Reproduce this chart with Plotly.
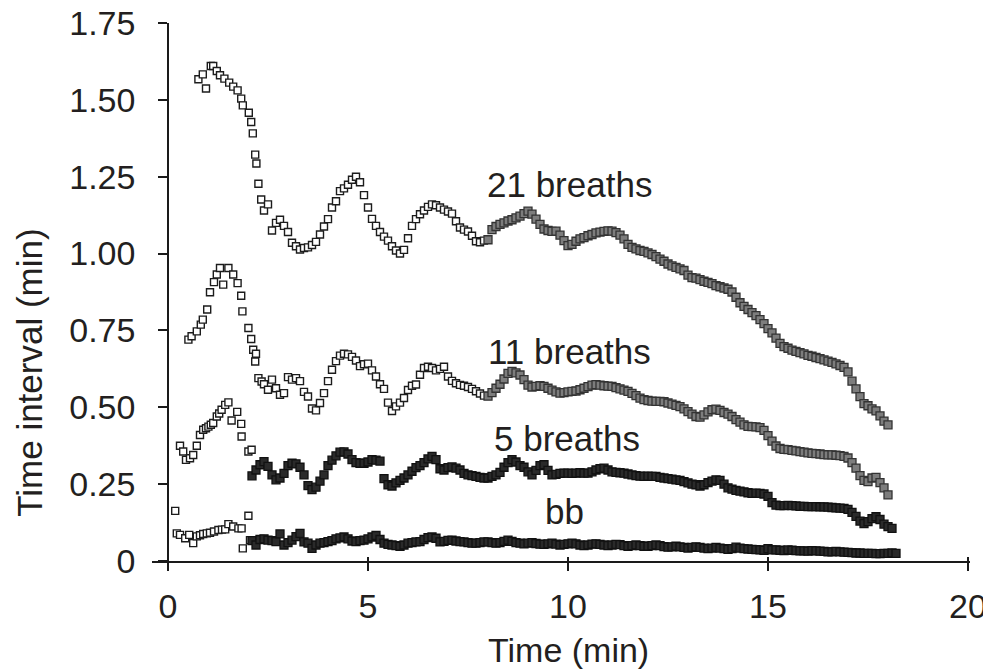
import plotly.graph_objects as go

# ---------------- data ----------------
# regular sampling times (min) used by the dense parts of the series
t_grid = [
    2.0, 2.1, 2.2, 2.3, 2.4, 2.5, 2.6, 2.7, 2.8, 2.9,
    3.0, 3.1, 3.2, 3.3, 3.4, 3.5, 3.6, 3.7, 3.8, 3.9,
    4.0, 4.1, 4.2, 4.3, 4.4, 4.5, 4.6, 4.7, 4.8, 4.9,
    5.0, 5.1, 5.2, 5.3, 5.4, 5.5, 5.6, 5.7, 5.8, 5.9,
    6.0, 6.1, 6.2, 6.3, 6.4, 6.5, 6.6, 6.7, 6.8, 6.9,
    7.0, 7.1, 7.2, 7.3, 7.4, 7.5, 7.6, 7.7, 7.8, 7.9,
    8.0, 8.1, 8.2, 8.3, 8.4, 8.5, 8.6, 8.7, 8.8, 8.9,
    9.0, 9.1, 9.2, 9.3, 9.4, 9.5, 9.6, 9.7, 9.8, 9.9,
    10.0, 10.1, 10.2, 10.3, 10.4, 10.5, 10.6, 10.7, 10.8, 10.9,
    11.0, 11.1, 11.2, 11.3, 11.4, 11.5, 11.6, 11.7, 11.8, 11.9,
    12.0, 12.1, 12.2, 12.3, 12.4, 12.5, 12.6, 12.7, 12.8, 12.9,
    13.0, 13.1, 13.2, 13.3, 13.4, 13.5, 13.6, 13.7, 13.8, 13.9,
    14.0, 14.1, 14.2, 14.3, 14.4, 14.5, 14.6, 14.7, 14.8, 14.9,
    15.0, 15.1, 15.2, 15.3, 15.4, 15.5, 15.6, 15.7, 15.8, 15.9,
    16.0, 16.1, 16.2, 16.3, 16.4, 16.5, 16.6, 16.7, 16.8, 16.9,
    17.0, 17.1, 17.2, 17.3, 17.4, 17.5, 17.6, 17.7, 17.8, 17.9,
    18.0, 18.1, 18.2,
]

# ---- 21 breaths ----
b21_early_t = [0.76, 0.87, 0.95, 1.07, 1.13, 1.22, 1.30, 1.41, 1.53, 1.63,
               1.74, 1.83, 1.87, 2.02, 2.08, 2.12, 2.18, 2.21, 2.26, 2.33]
b21_early_v = [1.567, 1.583, 1.537, 1.610, 1.610, 1.594, 1.580, 1.569, 1.556, 1.543,
               1.531, 1.504, 1.482, 1.458, 1.428, 1.391, 1.322, 1.293, 1.227, 1.176]
b21_mid_start = 2.4
b21_mid_v = [1.140, 1.160, 1.075, 1.100, 1.110, 1.090, 1.070, 1.035, 1.024, 1.013,
             1.018, 1.020, 1.028, 1.038, 1.062, 1.088, 1.112, 1.150, 1.170, 1.203,
             1.212, 1.224, 1.240, 1.250, 1.232, 1.190, 1.150, 1.113, 1.090, 1.070,
             1.055, 1.042, 1.024, 1.010, 1.000, 1.012, 1.050, 1.090, 1.112, 1.128,
             1.140, 1.152, 1.160, 1.157, 1.150, 1.143, 1.137, 1.130, 1.105, 1.085,
             1.078, 1.072, 1.058, 1.040, 1.037, 1.042]
b21_late_start = 8.0
b21_late_v = [1.045, 1.078, 1.088, 1.095, 1.100, 1.106, 1.110, 1.116, 1.122, 1.130,
              1.138, 1.128, 1.112, 1.095, 1.080, 1.075, 1.072, 1.073, 1.060, 1.042,
              1.026, 1.030, 1.040, 1.048, 1.052, 1.058, 1.062, 1.067, 1.070, 1.072,
              1.074, 1.073, 1.068, 1.060, 1.048, 1.030, 1.020, 1.015, 1.010, 1.007,
              1.002, 0.997, 0.990, 0.982, 0.975, 0.966, 0.960, 0.955, 0.950, 0.945,
              0.930, 0.922, 0.920, 0.915, 0.910, 0.906, 0.902, 0.896, 0.892, 0.888,
              0.884, 0.875, 0.858, 0.840, 0.828, 0.818, 0.808, 0.798, 0.785, 0.772,
              0.756, 0.742, 0.725, 0.708, 0.697, 0.692, 0.686, 0.682, 0.678, 0.674,
              0.669, 0.666, 0.662, 0.658, 0.654, 0.650, 0.646, 0.641, 0.636, 0.630,
              0.615, 0.585, 0.560, 0.535, 0.512, 0.505, 0.495, 0.488, 0.472, 0.455,
              0.443]

# ---- 11 breaths ----
b11_early_t = [0.51, 0.59, 0.72, 0.82, 0.87, 0.98, 1.05, 1.15, 1.22, 1.30,
               1.38, 1.51, 1.63, 1.74, 1.83, 1.86, 2.01, 2.08, 2.13, 2.18,
               2.20, 2.26, 2.34]
b11_early_v = [0.720, 0.731, 0.747, 0.769, 0.785, 0.818, 0.874, 0.907, 0.932, 0.953,
               0.899, 0.953, 0.932, 0.904, 0.863, 0.812, 0.758, 0.722, 0.687, 0.649,
               0.674, 0.595, 0.584]
b11_mid_start = 2.4
b11_mid_v = [0.575, 0.557, 0.590, 0.562, 0.541, 0.546, 0.598, 0.590, 0.595, 0.585,
             0.550, 0.535, 0.496, 0.490, 0.514, 0.546, 0.585, 0.622, 0.650, 0.668,
             0.674, 0.672, 0.664, 0.652, 0.634, 0.640, 0.642, 0.620, 0.600, 0.575,
             0.560, 0.515, 0.488, 0.503, 0.515, 0.530, 0.556, 0.570, 0.574, 0.606,
             0.628, 0.632, 0.628, 0.620, 0.625, 0.632, 0.600, 0.586, 0.578, 0.573,
             0.570, 0.566, 0.560, 0.552, 0.545, 0.538]
b11_late_start = 8.0
b11_late_v = [0.536, 0.548, 0.562, 0.575, 0.592, 0.610, 0.617, 0.612, 0.605, 0.590,
              0.572, 0.566, 0.568, 0.570, 0.568, 0.562, 0.556, 0.550, 0.546, 0.548,
              0.550, 0.552, 0.553, 0.557, 0.562, 0.567, 0.572, 0.574, 0.572, 0.570,
              0.569, 0.568, 0.564, 0.560, 0.556, 0.552, 0.545, 0.538, 0.530, 0.525,
              0.522, 0.520, 0.519, 0.519, 0.518, 0.514, 0.510, 0.506, 0.502, 0.495,
              0.486, 0.478, 0.470, 0.468, 0.475, 0.485, 0.492, 0.494, 0.490, 0.483,
              0.478, 0.470, 0.460, 0.452, 0.443, 0.438, 0.437, 0.436, 0.434, 0.425,
              0.408, 0.390, 0.374, 0.366, 0.363, 0.362, 0.360, 0.358, 0.356, 0.354,
              0.352, 0.350, 0.349, 0.348, 0.346, 0.345, 0.345, 0.344, 0.343, 0.340,
              0.335, 0.320, 0.302, 0.278, 0.262, 0.258, 0.270, 0.272, 0.255, 0.238,
              0.215]

# ---- 5 breaths ----
b5_early_t = [0.30, 0.38, 0.45, 0.55, 0.63, 0.72, 0.80, 0.88, 0.95, 1.01,
              1.07, 1.13, 1.22, 1.28, 1.34, 1.43, 1.51, 1.59, 1.73, 1.83,
              1.84, 2.01, 2.09]
b5_early_v = [0.375, 0.356, 0.329, 0.334, 0.345, 0.375, 0.410, 0.427, 0.432, 0.437,
              0.443, 0.449, 0.470, 0.480, 0.492, 0.508, 0.516, 0.457, 0.485, 0.446,
              0.405, 0.356, 0.362]
b5_start = 2.1
b5_v = [0.277, 0.296, 0.313, 0.323, 0.308, 0.280, 0.264, 0.270, 0.285, 0.310,
        0.318, 0.316, 0.305, 0.280, 0.245, 0.232, 0.240, 0.260, 0.280, 0.310,
        0.328, 0.342, 0.354, 0.355, 0.348, 0.330, 0.320, 0.318, 0.318, 0.322,
        0.330, 0.328, 0.325, 0.268, 0.248, 0.244, 0.254, 0.262, 0.270, 0.280,
        0.292, 0.304, 0.310, 0.320, 0.332, 0.340, 0.330, 0.300, 0.296, 0.304,
        0.306, 0.302, 0.296, 0.285, 0.280, 0.278, 0.275, 0.272, 0.270, 0.270,
        0.275, 0.280, 0.288, 0.305, 0.320, 0.330, 0.322, 0.310, 0.305, 0.290,
        0.280, 0.295, 0.310, 0.313, 0.295, 0.280, 0.282, 0.285, 0.286, 0.286,
        0.285, 0.286, 0.287, 0.286, 0.286, 0.290, 0.296, 0.300, 0.302, 0.296,
        0.290, 0.288, 0.287, 0.286, 0.283, 0.280, 0.278, 0.276, 0.275, 0.276,
        0.275, 0.275, 0.272, 0.270, 0.268, 0.266, 0.264, 0.262, 0.258, 0.254,
        0.250, 0.248, 0.244, 0.248, 0.255, 0.260, 0.264, 0.262, 0.250, 0.238,
        0.234, 0.230, 0.227, 0.225, 0.222, 0.220, 0.221, 0.220, 0.218, 0.210,
        0.190, 0.182, 0.180, 0.180, 0.181, 0.180, 0.179, 0.178, 0.178, 0.177,
        0.177, 0.177, 0.176, 0.176, 0.175, 0.174, 0.173, 0.172, 0.171, 0.168,
        0.158, 0.145, 0.130, 0.122, 0.128, 0.138, 0.144, 0.135, 0.120, 0.112,
        0.106]

# ---- breath-by-breath (bb) ----
bb_early_t = [0.18, 0.22, 0.30, 0.43, 0.53, 0.63, 0.72, 0.80, 0.88, 0.97,
              1.05, 1.15, 1.26, 1.35, 1.43, 1.51, 1.63, 1.76, 1.84, 1.87,
              2.01, 2.05]
bb_early_v = [0.163, 0.090, 0.085, 0.074, 0.085, 0.058, 0.080, 0.084, 0.088, 0.090,
              0.092, 0.096, 0.101, 0.102, 0.103, 0.120, 0.112, 0.106, 0.106, 0.041,
              0.147, 0.068]
bb_start = 2.1
bb_v = [0.066, 0.052, 0.070, 0.072, 0.068, 0.066, 0.063, 0.088, 0.052, 0.060,
        0.068, 0.079, 0.090, 0.062, 0.058, 0.041, 0.052, 0.058, 0.060, 0.063,
        0.066, 0.072, 0.075, 0.078, 0.072, 0.065, 0.063, 0.066, 0.068, 0.072,
        0.078, 0.083, 0.070, 0.058, 0.054, 0.052, 0.050, 0.048, 0.052, 0.058,
        0.060, 0.062, 0.063, 0.070, 0.076, 0.078, 0.074, 0.062, 0.064, 0.067,
        0.068, 0.065, 0.063, 0.062, 0.060, 0.058, 0.058, 0.060, 0.062, 0.062,
        0.060, 0.058, 0.060, 0.064, 0.068, 0.064, 0.060, 0.058, 0.056, 0.058,
        0.060, 0.057, 0.055, 0.054, 0.056, 0.058, 0.055, 0.052, 0.054, 0.056,
        0.058, 0.056, 0.052, 0.050, 0.052, 0.055, 0.056, 0.054, 0.052, 0.050,
        0.052, 0.054, 0.053, 0.050, 0.048, 0.050, 0.052, 0.050, 0.048, 0.048,
        0.050, 0.052, 0.050, 0.047, 0.045, 0.046, 0.048, 0.046, 0.044, 0.042,
        0.044, 0.046, 0.044, 0.042, 0.040, 0.042, 0.044, 0.042, 0.040, 0.038,
        0.040, 0.045, 0.042, 0.040, 0.039, 0.038, 0.037, 0.036, 0.035, 0.040,
        0.036, 0.036, 0.035, 0.034, 0.036, 0.035, 0.034, 0.033, 0.033, 0.032,
        0.034, 0.033, 0.032, 0.031, 0.030, 0.030, 0.031, 0.030, 0.029, 0.028,
        0.027, 0.026, 0.026, 0.025, 0.025, 0.025, 0.024, 0.024, 0.025, 0.025,
        0.026, 0.025]

series_labels = ["21 breaths", "11 breaths", "5 breaths", "bb"]
label_x = [10.03, 10.03, 9.98, 9.9]
label_y = [1.225, 0.681, 0.400, 0.160]

x_ticks = [0, 5, 10, 15, 20]
y_ticks = [0, 0.25, 0.5, 0.75, 1.0, 1.25, 1.5, 1.75]
y_ticktext = ["0", "0.25", "0.50", "0.75", "1.00", "1.25", "1.50", "1.75"]


def grid_slice(start, values):
    i = t_grid.index(start)
    return t_grid[i:i + len(values)]


FONT = "Liberation Sans, Arial, Helvetica, sans-serif"
TXT = "#231f20"

hollow_marker = dict(symbol="square", size=7, color="white",
                     line=dict(color="#1c1c1c", width=1.4))
dense_black_marker = dict(symbol="square", size=8, color="#2a2a2a",
                          line=dict(color="#111111", width=1.3))
gray_marker = dict(symbol="square", size=8, color="#7d7d7d",
                   line=dict(color="#333333", width=1.3))

fig = go.Figure()


def add(xs, ys, marker):
    fig.add_trace(go.Scatter(x=xs, y=ys, mode="markers", marker=marker,
                             showlegend=False, hoverinfo="skip", cliponaxis=False))


# bb
add(bb_early_t, bb_early_v, hollow_marker)
add(grid_slice(bb_start, bb_v), bb_v, dense_black_marker)
# 5 breaths
add(b5_early_t, b5_early_v, hollow_marker)
add(grid_slice(b5_start, b5_v), b5_v, dense_black_marker)
# 11 breaths
add(b11_early_t, b11_early_v, hollow_marker)
add(grid_slice(b11_mid_start, b11_mid_v), b11_mid_v, hollow_marker)
add(grid_slice(b11_late_start, b11_late_v), b11_late_v, gray_marker)
# 21 breaths
add(b21_early_t, b21_early_v, hollow_marker)
add(grid_slice(b21_mid_start, b21_mid_v), b21_mid_v, hollow_marker)
add(grid_slice(b21_late_start, b21_late_v), b21_late_v, gray_marker)

# overlay axis to get x ticks that cross the axis line slightly
fig.add_trace(go.Scatter(x=[None], y=[None], xaxis="x2", showlegend=False))

for txt, lx, ly in zip(series_labels, label_x, label_y):
    fig.add_annotation(x=lx, y=ly, text=txt, showarrow=False,
                       xanchor="center", yanchor="middle",
                       font=dict(family=FONT, size=35, color=TXT))

fig.add_annotation(xref="paper", yref="paper", x=0.5086, y=-0.165,
                   text="Time (min)", showarrow=False,
                   xanchor="center", yanchor="middle",
                   font=dict(family=FONT, size=34, color=TXT))
fig.add_annotation(xref="paper", yref="paper", x=-0.149, y=0.35,
                   text="Time interval (min)", textangle=-90, showarrow=False,
                   xanchor="center", yanchor="middle",
                   font=dict(family=FONT, size=35, color=TXT))

x_range = [-0.4, 20.05]
fig.update_layout(
    width=991, height=670,
    margin=dict(l=144, r=29, t=15, b=117, autoexpand=False),
    paper_bgcolor="white", plot_bgcolor="white",
    font=dict(family=FONT, color=TXT),
    xaxis=dict(range=x_range, domain=[0, 1], tickvals=x_ticks, automargin=False,
               showline=True, linecolor="#1a1a1a", linewidth=1.5,
               ticks="outside", ticklen=8, tickwidth=1.5, tickcolor="#1a1a1a",
               ticklabelstandoff=6, ticklabeloverflow="allow",
               tickfont=dict(family=FONT, size=34, color=TXT),
               showgrid=False, zeroline=False),
    xaxis2=dict(range=x_range, overlaying="x", anchor="y", side="bottom",
                tickvals=x_ticks, showticklabels=False, ticks="inside",
                ticklen=4, tickwidth=1.5, tickcolor="#1a1a1a", automargin=False,
                showline=False, showgrid=False, zeroline=False),
    yaxis=dict(range=[0, 1.75], anchor="free", position=0.4 / 20.45,
               automargin=False,
               tickvals=y_ticks, ticktext=y_ticktext,
               showline=True, linecolor="#1a1a1a", linewidth=1.5,
               ticks="outside", ticklen=9, tickwidth=1.5, tickcolor="#1a1a1a",
               ticklabelstandoff=16, ticklabeloverflow="allow",
               tickfont=dict(family=FONT, size=34, color=TXT),
               showgrid=False, zeroline=False),
)

fig.write_html("out.html")
